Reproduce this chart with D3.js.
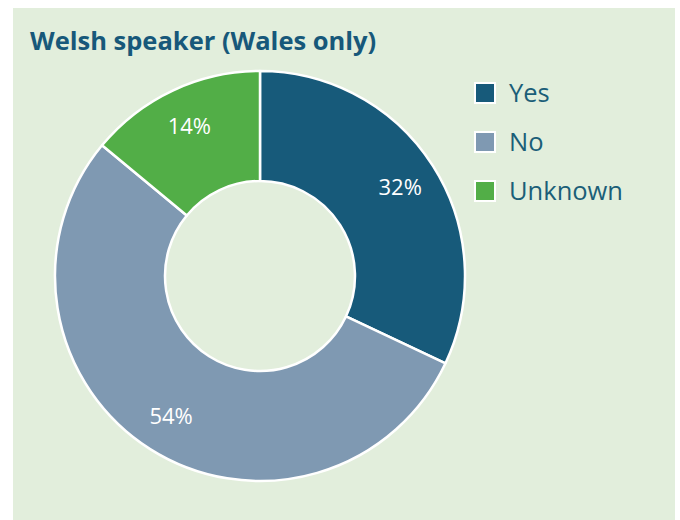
<!DOCTYPE html>
<html><head><meta charset="utf-8">
<script src="https://cdn.jsdelivr.net/npm/d3@7"></script>
<style>html,body{margin:0;padding:0;background:#fff;}svg{display:block;}</style>
</head><body>
<svg id="chart" width="680" height="520"></svg>
<script>
const categories = ["Yes", "No", "Unknown"];
const values = [32, 54, 14];
const labels = ["32%", "54%", "14%"];
const colors = ["#175a7a", "#7f99b2", "#52ae47"];

const svg = d3.select("#chart");
const font = "'Open Sans', 'Noto Sans', sans-serif";

svg.append("rect").attr("x", 13).attr("y", 8).attr("width", 662).attr("height", 512).attr("fill", "#e2eedc");

svg.append("text").attr("x", 30).attr("y", 50)
  .attr("font-family", font).attr("font-weight", "bold").attr("font-size", 25.5)
  .attr("fill", "#17587a").text("Welsh speaker (Wales only)");

const cx = 260, cy = 276, R = 205, r = 95;
const pie = d3.pie().sort(null).value(d => d);
const arcs = pie(values);
const arc = d3.arc().innerRadius(r).outerRadius(R);
const labelArc = d3.arc().innerRadius(166).outerRadius(166);

const g = svg.append("g").attr("transform", `translate(${cx},${cy})`);
g.selectAll("path").data(arcs).join("path")
  .attr("d", arc).attr("fill", (d, i) => colors[i])
  .attr("stroke", "#fff").attr("stroke-width", 2.5).attr("stroke-linejoin", "round");

g.selectAll("text").data(arcs).join("text")
  .attr("transform", d => `translate(${labelArc.centroid(d)})`)
  .attr("text-anchor", "middle").attr("dy", "0.35em")
  .attr("font-family", font).attr("font-size", 22).attr("fill", "#fff")
  .text((d, i) => labels[i]);

const leg = svg.append("g");
const rowY = d3.scalePoint().domain(categories).range([93, 191]);
categories.forEach((c, i) => {
  const y = rowY(c);
  leg.append("rect").attr("x", 475).attr("y", y - 10).attr("width", 20).attr("height", 20)
    .attr("fill", colors[i]).attr("stroke", "#fff").attr("stroke-width", 2);
  leg.append("text").attr("x", 509).attr("y", y).attr("dy", "0.35em")
    .attr("font-family", font).attr("font-size", 25.5).attr("fill", "#1b5e78").text(c);
});
</script>
</body></html>
